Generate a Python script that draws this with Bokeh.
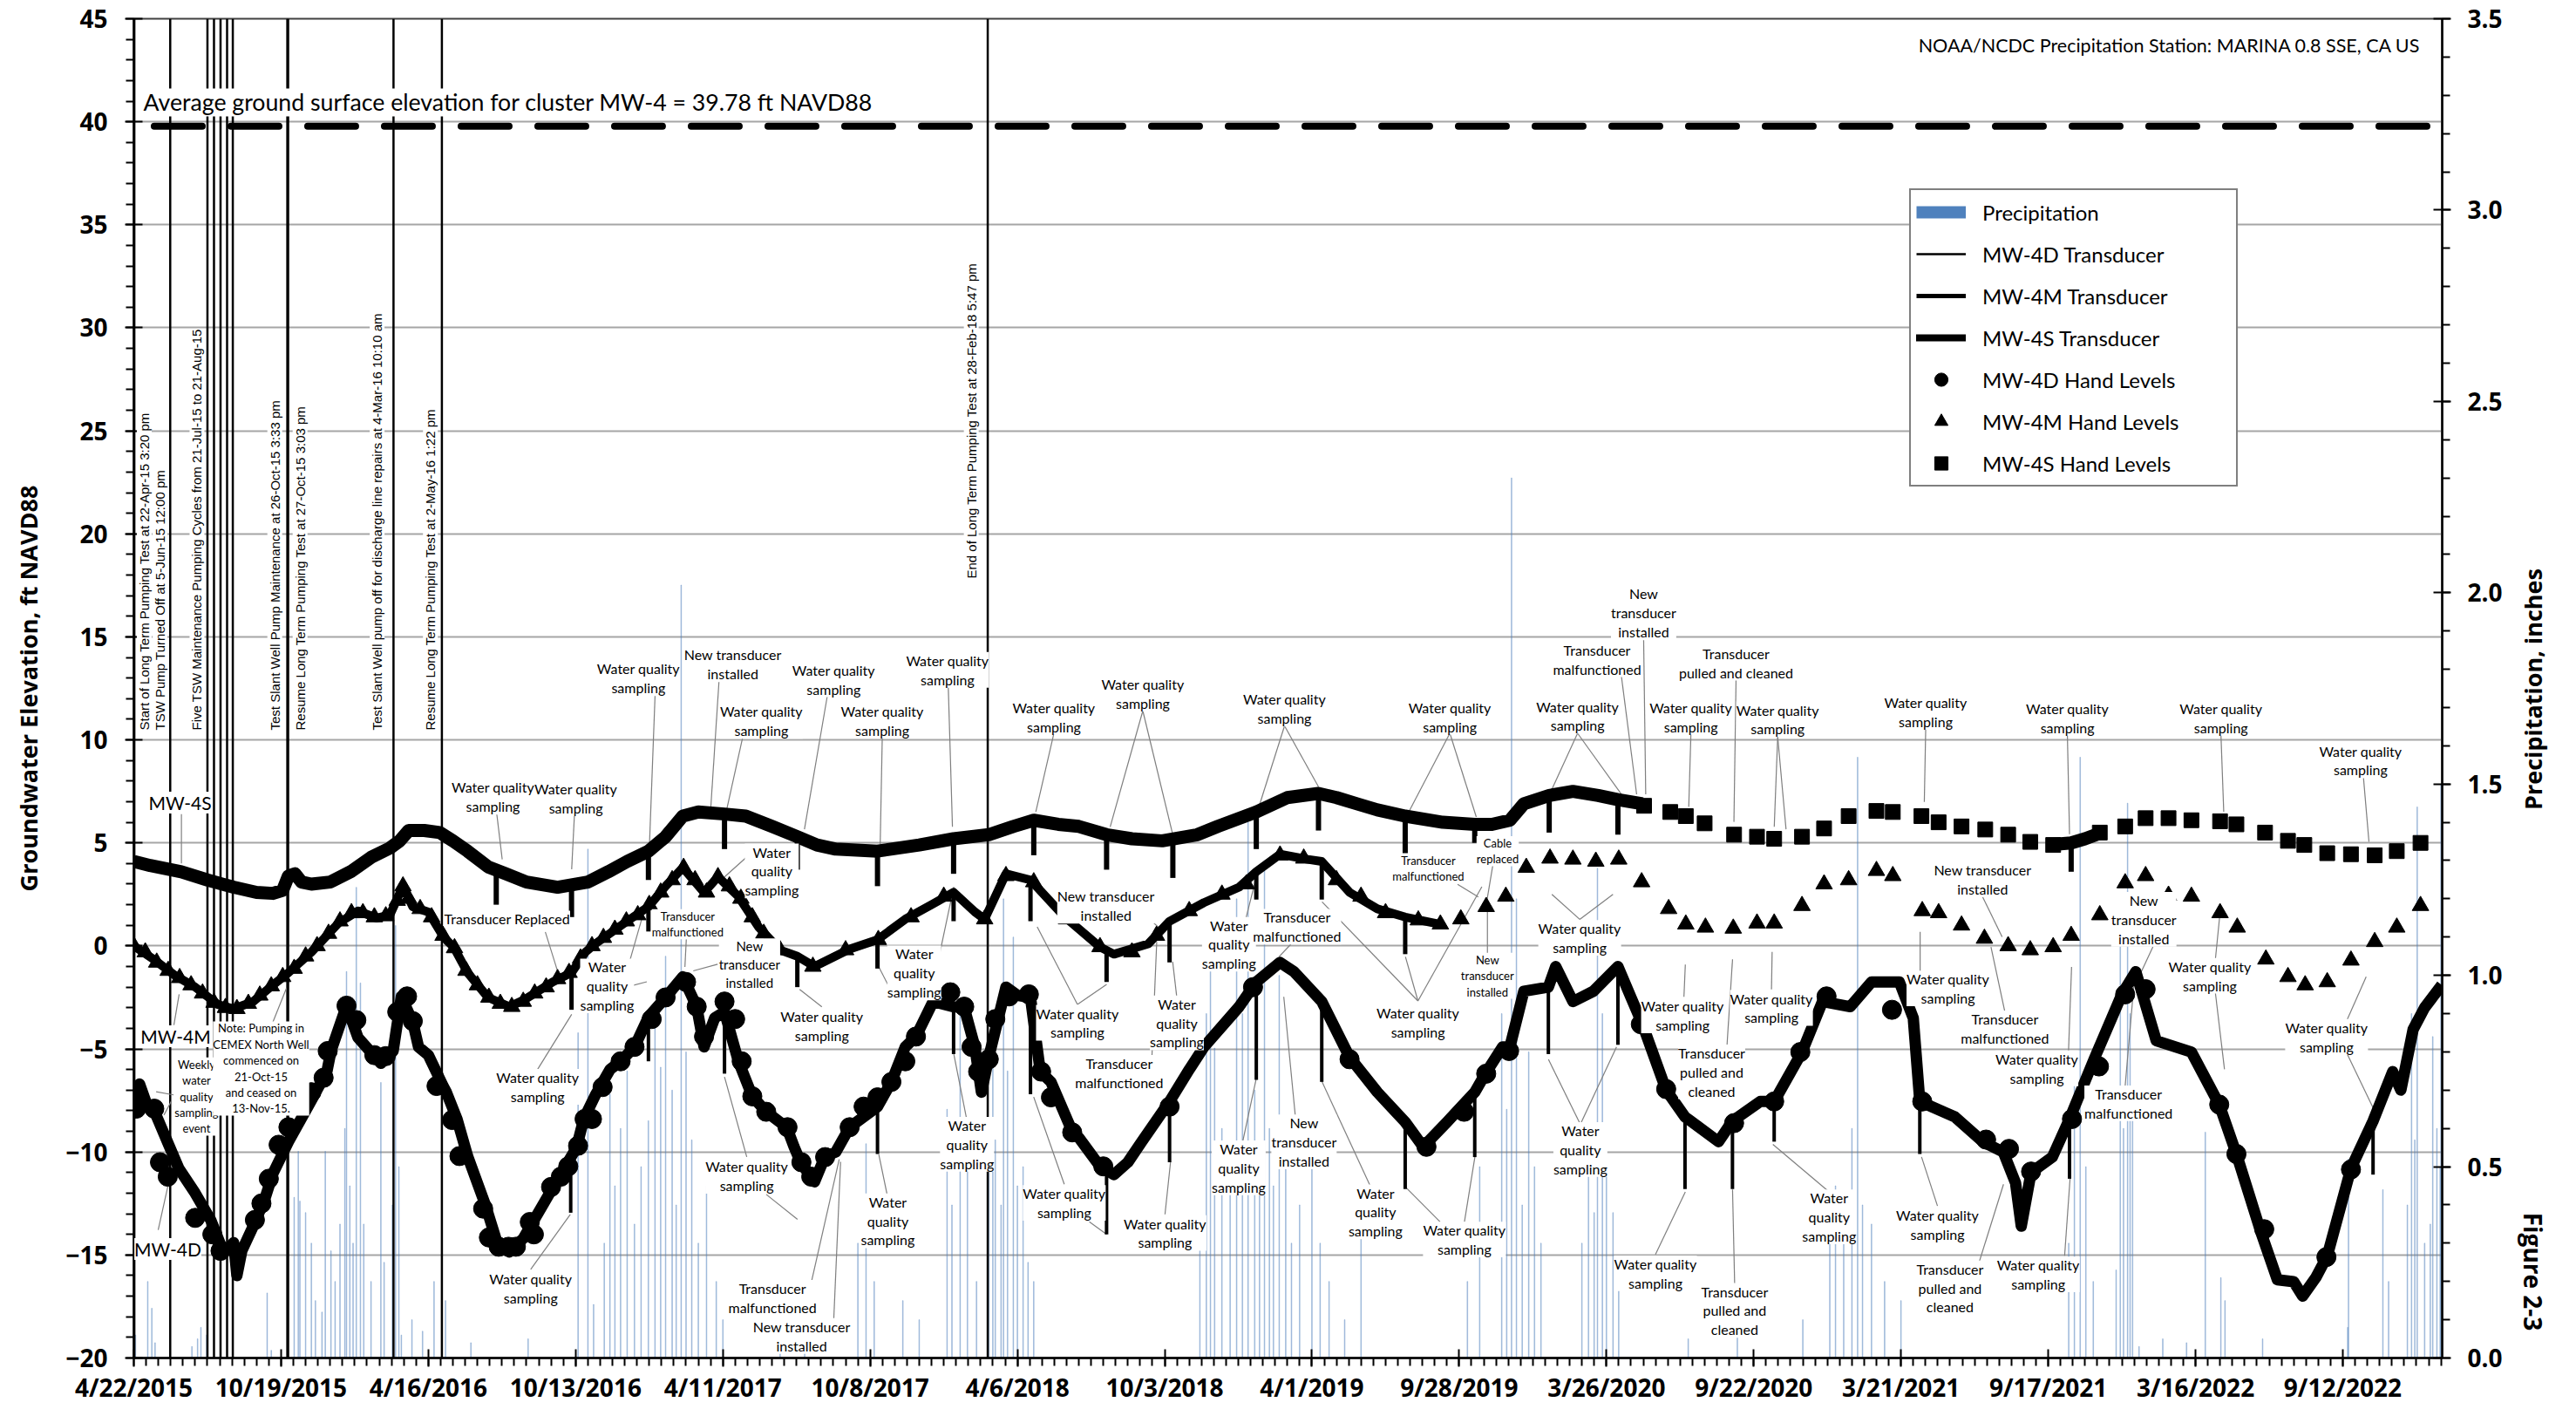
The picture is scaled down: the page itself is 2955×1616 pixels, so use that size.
import math
from bokeh.plotting import figure
from bokeh.layouts import row
from bokeh.models import (Range1d, LinearAxis, FixedTicker, NumeralTickFormatter,
                          Label, Legend, LegendItem)
from bokeh.embed import file_html
from bokeh.resources import INLINE

NAN = float("nan")

# ---------------- data (x = days since 4/22/2015) ----------------
X_END_DAY = 2821.5
X_TICK_DAYS = [0, 180, 360, 540, 720, 900, 1080, 1260, 1440, 1620, 1800, 1980, 2160, 2340, 2520, 2700]
X_TICK_LABELS = ["4/22/2015", "10/19/2015", "4/16/2016", "10/13/2016", "4/11/2017", "10/8/2017",
                 "4/6/2018", "10/3/2018", "4/1/2019", "9/28/2019", "3/26/2020", "9/22/2020",
                 "3/21/2021", "9/17/2021", "3/16/2022", "9/12/2022"]

GROUND_SURFACE_FT = 39.78

# MW-4S transducer
MW4S_DAY = [0, 20, 58, 90, 122, 150, 170, 182, 189, 197, 205, 217, 240, 265, 290, 313, 325, 336, 355, 374,
            390, 408, 433, 455, 480, 518, 555, 580, 603, 629, 650, 671, 690, 722, 748, 780, 811, 835, 858,
            909, 960, 1002, 1045, 1075, 1100, 1130, 1155, 1189, 1220, 1257, 1300, 1325, 1372, 1410, 1448,
            1470, 1495, 1520, 1554, 1600, 1639, 1660, 1682, 1699, 1730, 1759, 1790, 1814, 1844,
            1845, 2340, 2368, 2385, 2405]
MW4S_FT = [4.1, 3.9, 3.6, 3.2, 2.85, 2.6, 2.55, 2.7, 3.4, 3.5, 3.1, 3.0, 3.1, 3.6, 4.3, 4.75, 5.1, 5.6, 5.6, 5.5,
           5.1, 4.6, 3.84, 3.5, 3.1, 2.85, 3.1, 3.6, 4.1, 4.6, 5.3, 6.3, 6.5, 6.4, 6.3, 5.8, 5.3, 4.9, 4.7,
           4.6, 4.9, 5.2, 5.4, 5.8, 6.1, 5.9, 5.8, 5.4, 5.2, 5.1, 5.4, 5.8, 6.5, 7.2, 7.4,
           7.2, 6.9, 6.6, 6.3, 6.0, 5.9, 5.9, 6.1, 6.9, 7.3, 7.5, 7.3, 7.1, 6.9,
           NAN, 4.9, 5.0, 5.2, 5.5]
MW4S_SPIKE_DAY = [443, 535, 629, 722, 811, 909, 1002, 1100, 1189, 1270, 1372, 1448, 1554, 1639, 1730, 1814, 2368]
MW4S_SPIKE_TOP = [3.6, 2.9, 4.6, 6.4, 5.3, 4.6, 5.2, 6.1, 5.4, 5.2, 6.5, 7.4, 6.3, 5.9, 7.3, 7.1, 5.0]
MW4S_SPIKE_LOW = [2.0, 1.4, 3.2, 4.7, 3.7, 2.9, 3.5, 4.4, 3.7, 3.3, 4.7, 5.6, 4.4, 5.0, 5.5, 5.4, 3.6]
MW4S_HAND_DAY = [1846, 1878, 1897, 1920, 1956, 1984, 2005, 2039, 2066, 2096, 2130, 2150, 2185, 2206, 2234,
                 2263, 2291, 2318, 2346, 2403, 2434, 2459, 2487, 2515, 2550, 2570, 2605, 2633, 2653,
                 2681, 2710, 2739, 2766, 2795]
MW4S_HAND_FT = [6.8, 6.5, 6.3, 5.95, 5.4, 5.3, 5.2, 5.3, 5.7, 6.3, 6.55, 6.5, 6.3, 6.0, 5.8,
                5.65, 5.4, 5.05, 4.9, 5.5, 5.8, 6.2, 6.2, 6.1, 6.05, 5.9, 5.5, 5.1, 4.9,
                4.5, 4.45, 4.4, 4.6, 5.0]

# MW-4M transducer
MW4M_DAY = [0, 26, 51, 75, 103, 122, 146, 170, 189, 217, 250, 274, 297, 313, 329, 341, 360, 379, 391, 408,
            433, 459, 478, 512, 535, 552, 564, 603, 629, 650, 671, 697, 714, 739, 764, 790, 811, 832, 875,
            909, 943, 975, 1002, 1028, 1040, 1066, 1096, 1138, 1181, 1198, 1240, 1266, 1308, 1351, 1372,
            1401, 1435, 1452, 1486, 1520, 1554, 1597]
MW4M_FT = [0.0, -0.7, -1.45, -2.0, -2.85, -3.05, -2.7, -1.9, -1.3, -0.3, 1.1, 1.7, 1.35, 1.5, 2.9, 1.9, 1.65,
           0.4, -0.05, -1.3, -2.5, -2.95, -2.6, -1.75, -1.3, -0.3, 0.1, 1.2, 1.9, 2.9, 3.8, 2.6, 3.35, 2.4,
           0.9, -0.2, -0.5, -1.0, -0.15, 0.3, 1.3, 2.0, 2.6, 1.65, 1.3, 3.5, 3.2, 1.4, -0.05, -0.4, 0.1,
           1.2, 2.1, 2.85, 3.6, 4.45, 4.2, 4.1, 2.6, 1.8, 1.4, 1.05]
MW4M_SPIKE_DAY = [535, 629, 811, 909, 1002, 1096, 1189, 1266, 1372, 1452, 1554]
MW4M_SPIKE_TOP = [-1.3, 1.9, -0.5, 0.3, 2.6, 3.2, -0.2, 1.2, 3.6, 4.1, 1.4]
MW4M_SPIKE_LOW = [-3.1, 0.7, -2.0, -1.1, 1.2, 1.2, -1.75, -0.8, 2.25, 2.25, -0.4]
MW4M_HAND_DAY = [0, 14, 28, 42, 56, 70, 84, 98, 112, 126, 140, 154, 168, 182, 196, 210, 224, 238, 252, 266,
                 280, 294, 308, 322, 329, 336, 350, 364, 378, 392, 406, 420, 434, 448, 462, 476, 490, 504,
                 518, 532, 546, 560, 574, 588, 602, 616, 630, 644, 658, 672, 686, 700, 714, 728, 742, 756,
                 770, 790, 830, 870, 910, 950, 990, 1040, 1066, 1100, 1140, 1181, 1220, 1250, 1290, 1330,
                 1360, 1401, 1430, 1470, 1500, 1530, 1570, 1597,
                 1622, 1653, 1677, 1702, 1731, 1759, 1787, 1815, 1843, 1876, 1897, 1921, 1955, 1984, 2005,
                 2039, 2066, 2096, 2130, 2150, 2186, 2206, 2234, 2262, 2291, 2318, 2346, 2368, 2403, 2434,
                 2459, 2487, 2515, 2550, 2571, 2606, 2633, 2654, 2681, 2710, 2739, 2766, 2795]
MW4M_HAND_FT = [0.0, -0.3, -0.8, -1.2, -1.55, -1.9, -2.3, -2.75, -3.0, -3.05, -2.8, -2.4, -1.95, -1.5, -1.1,
                -0.5, 0.0, 0.6, 1.2, 1.6, 1.6, 1.4, 1.45, 2.2, 2.9, 2.3, 1.8, 1.4, 0.5, -0.1, -1.2, -1.9,
                -2.5, -2.8, -2.95, -2.7, -2.3, -2.0, -1.6, -1.3, -0.6, 0.0, 0.4, 0.8, 1.2, 1.5, 2.0, 2.6,
                3.2, 3.8, 3.2, 2.6, 3.35, 2.9, 2.3, 1.4, 0.6, -0.2, -1.0, -0.2, 0.3, 1.4, 2.4, 1.3, 3.4,
                3.1, 1.3, -0.05, -0.3, 0.5, 1.7, 2.5, 3.0, 4.4, 4.25, 3.2, 2.4, 1.6, 1.25, 1.05,
                1.3, 1.9, 2.4, 3.8, 4.25, 4.2, 4.1, 4.2, 3.1, 1.8, 1.05, 0.9, 0.85, 1.1, 1.1,
                1.95, 3.0, 3.2, 3.65, 3.4, 1.7, 1.6, 1.0, 0.36, 0.0, -0.2, -0.05, 0.5, 1.5, 3.05,
                3.4, 2.45, 2.4, 1.6, 0.9, -0.65, -1.5, -1.9, -1.75, -0.7, 0.2, 0.9, 1.95]

# MW-4D transducer
MW4D_DAY = [0, 7, 15, 26, 41, 55, 75, 94, 108, 118, 122, 126, 132, 146, 160, 170, 189, 217, 236, 241, 260,
            274, 293, 302, 317, 327, 341, 348, 360, 378, 382, 395, 408, 430, 444, 450, 459, 476, 501, 520,
            541, 550, 564, 582, 595, 612, 629, 650, 671, 688, 697, 710, 722, 739, 756, 773, 798, 807, 815,
            832, 845, 858, 875, 892, 909, 926, 943, 956, 977, 1002, 1015, 1028, 1036, 1045, 1066, 1080,
            1096, 1108, 1121, 1147, 1155, 1181, 1198, 1215, 1232, 1266, 1290, 1308, 1351, 1372, 1401,
            1418, 1452, 1486, 1520, 1554, 1576, 1605, 1639, 1652, 1673, 1682, 1699, 1729, 1738, 1759,
            1784, 1814, 1830, 1844, 1873, 1896, 1903, 1937, 1954, 1988, 2005, 2039, 2064, 2098, 2124,
            2158, 2175, 2183, 2226, 2260, 2285, 2300, 2307, 2319, 2345, 2366, 2396, 2430, 2447, 2472,
            2515, 2549, 2570, 2600, 2620, 2640, 2651, 2667, 2681, 2710, 2737, 2761, 2771, 2786, 2800, 2821]
MW4D_FT = [-7.25, -6.7, -7.6, -8.1, -9.5, -10.8, -12.0, -13.3, -14.7, -14.6, -14.4, -16.0, -14.8, -13.6,
           -12.3, -11.05, -9.5, -7.5, -6.1, -5.1, -2.9, -4.45, -5.3, -5.7, -5.1, -2.45, -3.7, -4.9, -5.3,
           -6.8, -7.1, -8.4, -10.2, -12.6, -14.4, -14.6, -14.85, -14.2, -12.5, -11.2, -9.8, -8.4, -7.25,
           -6.0, -5.6, -4.9, -3.45, -2.5, -1.5, -2.95, -4.9, -3.5, -3.2, -5.6, -7.3, -8.05, -8.8, -9.75,
           -10.5, -11.45, -10.2, -10.0, -8.8, -8.3, -7.8, -6.6, -4.9, -4.4, -2.7, -2.95, -3.0, -4.9, -7.1,
           -5.4, -2.0, -2.4, -2.5, -6.1, -6.6, -9.0, -9.3, -10.7, -11.1, -10.5, -9.5, -7.55, -6.0, -4.9,
           -2.95, -1.75, -0.8, -1.25, -2.7, -5.4, -7.1, -8.55, -9.75, -8.55, -7.1, -6.2, -4.9, -4.9, -2.2,
           -2.0, -1.0, -2.7, -2.2, -1.0, -2.5, -3.8, -7.0, -8.3, -8.5, -9.5, -8.5, -7.55, -7.55, -5.15,
           -2.7, -2.95, -1.75, -1.75, -3.5, -7.55, -8.3, -9.5, -10.0, -11.5, -13.6, -11.0, -10.25, -8.4,
           -5.5, -2.35, -1.25, -4.6, -5.15, -7.7, -10.1, -13.9, -16.2, -16.3, -17.0, -16.1, -15.05, -10.8,
           -8.5, -6.1, -7.0, -4.05, -3.0, -1.9]
MW4D_SPIKE_DAY = [534, 629, 722, 909, 1002, 1096, 1189, 1266, 1372, 1452, 1554, 1639, 1729, 1814, 1896,
                  1954, 2005, 2183, 2366, 2737]
MW4D_SPIKE_TOP = [-10.3, -3.45, -3.2, -7.8, -2.95, -2.5, -10.9, -7.55, -1.75, -2.7, -8.55, -7.1, -2.0,
                  -1.0, -8.3, -8.5, -7.55, -7.55, -8.4, -8.6]
MW4D_SPIKE_LOW = [-12.95, -5.6, -6.2, -10.1, -5.25, -7.2, -14.0, -10.5, -6.5, -6.6, -11.8, -10.25, -5.25,
                  -4.8, -11.8, -11.8, -9.5, -10.1, -11.3, -11.1]
MW4D_HAND_DAY = [1, 3, 25, 32, 41.5, 75, 96, 106, 148, 156, 165, 177, 189, 217, 232, 237, 260, 272, 294,
                 308, 322, 334, 341, 370, 389, 398, 427, 434, 446, 458, 467, 484, 489, 510, 522, 531, 543,
                 551, 560, 573, 595, 612, 633, 650, 675, 688, 697, 722, 735, 743, 756, 773, 799, 816, 828,
                 845, 875, 892, 909, 926, 943, 956, 998, 1015, 1024, 1032, 1045, 1053, 1070, 1094, 1109,
                 1121, 1147, 1185, 1266, 1368, 1486, 1580, 1626, 1653, 1681, 1842, 1873, 1956, 2005, 2037,
                 2069, 2149, 2186, 2264, 2292, 2319, 2369, 2402, 2434, 2459, 2549, 2570, 2604, 2680, 2710]
MW4D_HAND_FT = [-7.25, -7.9, -7.9, -10.5, -11.2, -13.2, -14.0, -14.8, -13.3, -12.5, -11.3, -9.65, -8.8,
                -7.1, -6.4, -5.1, -2.9, -3.6, -5.3, -5.35, -3.2, -2.45, -3.65, -6.8, -8.45, -10.2, -12.75,
                -14.15, -14.6, -14.6, -14.6, -13.4, -14.0, -11.7, -11.2, -10.7, -9.7, -8.4, -8.4, -6.85,
                -5.6, -4.9, -3.55, -2.5, -1.75, -2.95, -4.4, -2.7, -3.55, -5.6, -7.3, -8.05, -8.8, -10.5,
                -11.2, -10.25, -8.8, -7.8, -7.35, -6.6, -5.6, -4.4, -2.25, -2.95, -4.9, -6.1, -5.5, -3.55,
                -2.45, -2.35, -6.1, -7.35, -9.05, -10.7, -7.8, -2.0, -5.5, -9.75, -8.05, -6.2, -5.1, -3.8,
                -6.95, -8.6, -7.55, -5.15, -2.45, -3.1, -7.55, -9.4, -9.85, -10.95, -8.4, -5.85, -2.35,
                -2.1, -7.7, -10.1, -13.75, -15.1, -10.85]

# Daily precipitation (inches), NOAA/NCDC MARINA 0.8 SSE
PRECIP_DAY = [2, 17, 22, 26, 71, 78, 82, 89, 163, 168, 196, 201, 203, 210, 217, 222, 230, 234, 241, 246,
              252, 258, 260, 264, 268, 272, 277, 281, 290, 302, 306, 316, 320, 324, 327, 340, 353, 367,
              381, 412, 482, 543, 555, 562, 575, 582, 588, 595, 603, 612, 620, 629, 637, 644, 650, 658,
              663, 669, 675, 682, 690, 700, 712, 720, 790, 820, 885, 895, 905, 940, 960, 994, 1000,
              1010, 1019, 1030, 1045, 1050, 1053, 1060, 1063, 1068, 1075, 1080, 1087, 1093, 1100, 1303,
              1311, 1316, 1321, 1330, 1340,
              1348, 1355, 1362, 1370, 1376, 1382, 1388, 1393, 1400, 1408, 1415, 1425, 1440, 1450, 1461,
              1480, 1500, 1630, 1645, 1672, 1678, 1684, 1690, 1697, 1705, 1712, 1720, 1770, 1778, 1785,
              1789, 1795, 1800, 1808, 1815, 1900, 1960, 2040, 2073, 2080, 2090, 2100, 2107, 2113, 2124,
              2140, 2160, 2365, 2372, 2379, 2386, 2395, 2423, 2428, 2432, 2437, 2440, 2443, 2451, 2480,
              2509, 2532, 2551, 2556, 2602, 2706, 2707, 2749, 2756, 2779, 2784, 2788, 2791, 2800, 2807,
              2810, 2815, 2819, 2820]
PRECIP_IN = [0.06, 0.2, 0.13, 0.04, 0.03, 0.05, 0.08, 0.06, 0.17, 0.02, 0.42, 0.54, 0.41, 0.38, 0.30,
             0.15, 0.12, 0.54, 0.28, 0.2, 0.35, 0.6, 1.01, 0.45, 0.3, 1.23, 0.98, 0.35, 0.2, 0.72, 0.25,
             0.4, 1.13, 0.5, 0.06, 0.1, 0.07, 0.2, 0.15, 0.04, 0.05, 0.85, 1.33, 0.14, 0.3, 0.69, 0.45,
             0.6, 0.75, 0.35, 0.5, 0.62, 0.9, 0.76, 1.05, 0.7, 0.4, 2.02, 0.8, 0.57, 0.3, 0.45, 0.2, 0.1,
             0.05, 0.1, 0.3, 0.56, 0.2, 0.15, 0.1, 0.65, 0.4, 0.9, 0.55, 0.2, 0.5, 0.9, 0.57, 0.4, 1.2,
             0.75, 1.1, 0.45, 0.5, 0.25, 0.2, 0.3,
             0.9, 1.1, 0.81, 0.6, 0.5, 1.2, 0.9, 1.4, 0.7, 0.45, 1.3, 0.6, 0.45, 1.0, 0.5, 0.3,
             0.4, 0.55, 0.3, 0.2, 0.1, 0.35, 0.2, 0.5, 0.9, 0.65, 2.3, 1.2, 0.4, 0.8, 0.5, 0.3, 0.3, 0.6,
             0.38, 1.28, 0.9, 0.5, 0.38, 0.2, 0.05, 0.1, 0.1, 0.3, 0.45, 0.38, 0.6, 1.57, 0.4, 0.35, 0.2,
             0.15, 0.3, 0.8, 1.57, 0.5, 0.2, 0.23, 1.2, 0.6, 1.45, 0.9, 0.7, 0.03, 0.05, 0.04, 0.59,
             0.21, 0.15, 0.05, 0.08, 0.52, 0.44, 0.2, 0.4, 0.9, 0.57, 1.44, 0.3, 0.35, 0.84, 0.6, 0.5,
             1.5]

# Events (vertical lines)
EVENT_DAY = [0.64, 44.5, 90, 98, 106, 114, 121, 187.65, 188.63, 317.42, 376.56, 1043.74]
EVENT_LABELS = [
    ("Start of Long Term Pumping Test at 22-Apr-15 3:20 pm", 12.8, 10.47),
    ("TSW Pump Turned Off at 5-Jun-15 12:00 pm", 32.0, 10.47),
    ("Five TSW Maintenance Pumping Cycles from 21-Jul-15 to 21-Aug-15", 77.2, 10.47),
    ("Test Slant Well Pump Maintenance at 26-Oct-15 3:33 pm", 172.3, 10.47),
    ("Resume Long Term Pumping Test at 27-Oct-15 3:03 pm", 203.2, 10.47),
    ("Test Slant Well pump off for discharge line repairs at 4-Mar-16 10:10 am", 297.4, 10.47),
    ("Resume Long Term Pumping Test at 2-May-16 1:22 pm", 362.5, 10.47),
    ("End of Long Term Pumping Test at 28-Feb-18 5:47 pm", 1023.6, 17.83),
]

WQ = "Water quality\nsampling"
WQ3 = "Water\nquality\nsampling"
# (text, day, ft, font px, [leader segments (day0, ft0, day1, ft1)])
CALLOUTS = [
    ("MW-4S", 56.5, 6.96, 21, [(58.2, 6.4, 58.2, 4.0)]),
    ("MW-4M", 51.1, -4.39, 21, [(49, -3.84, 55.4, -2.35)]),
    ("MW-4D", 41.6, -14.71, 21, [(29.8, -13.78, 41.6, -11.67)]),
    ("Weekly\nwater\nquality\nsampling\nevent", 76.7, -7.31, 13,
     [(48.6, -7.23, 27.3, -7.08), (46.2, -7.51, 36.8, -8.21)]),
    ("Note: Pumping in\nCEMEX North Well\ncommenced on\n21-Oct-15\nand ceased on\n13-Nov-15.",
     155.6, -5.95, 13, [(165.2, -4.17, 186.5, -2.06)]),
    (WQ, 439, 7.24, 16, [(443.5, 6.46, 450.3, 4.2)]),
    (WQ, 540.3, 7.16, 16, [(538.6, 6.39, 535.2, 3.72)]),
    (WQ, 616.8, 12.99, 16, [(637.1, 12.14, 630.3, 4.93)]),
    ("New transducer\ninstalled", 732.2, 13.67, 16, [(715.3, 12.87, 705.1, 6.63)]),
    (WQ, 767.1, 10.92, 16, [(744.1, 10.1, 722.0, 6.14)]),
    (WQ, 855.4, 12.94, 16, [(847.7, 12.14, 819.7, 5.66)]),
    (WQ, 914.8, 10.95, 16, [(914.8, 10.08, 912.3, 4.93)]),
    (WQ, 994.6, 13.4, 16, [(995.5, 12.58, 1000.6, 5.78)]),
    (WQ, 1124.6, 11.12, 16, [(1124.6, 10.32, 1102.5, 6.51)]),
    (WQ, 1233.3, 12.24, 16, [(1233.3, 11.41, 1193.4, 5.78), (1233.3, 11.41, 1269.8, 5.42)]),
    (WQ, 1406.5, 11.51, 16, [(1406.5, 10.68, 1374.2, 6.63), (1406.5, 10.68, 1448.1, 7.72)]),
    (WQ, 1608.6, 11.12, 16, [(1608.6, 10.32, 1558.5, 6.51), (1608.6, 10.32, 1640.9, 6.26)]),
    ("Transducer\nmalfunctioned", 1582.3, 3.77, 13, [(1618.0, 2.99, 1643.4, 2.38)]),
    ("Cable\nreplaced", 1667, 4.6, 13, [(1661, 3.89, 1652.6, 1.9)]),
    ("Transducer Replaced", 456.3, 1.31, 16, [(503, 0.68, 518.2, -1.26)]),
    (WQ3, 578.5, -1.94, 16, [(603.2, -1.14, 628.6, 2.38), (603.2, -1.99, 627, -1.74)]),
    ("Transducer\nmalfunctioned", 677, 1.05, 13, [(675.3, 0.32, 673.6, -1.02)]),
    ("New\ntransducer\ninstalled", 752.6, -0.89, 15, [(713.6, -0.89, 683.8, -1.21)]),
    (WQ3, 779.8, 3.64, 16, [(752.6, 4.44, 722.0, 3.35)]),
    (WQ, 841, -3.88, 16, [(841, -2.96, 813.8, -2.11)]),
    (WQ3, 953.9, -1.31, 16, [(983.6, -0.65, 1002.3, 2.87), (921.6, -1.87, 910.6, -1.02)]),
    ("New transducer\ninstalled", 1188.3, 1.95, 16, [(1231.6, 1.65, 1258.7, 0.68)]),
    (WQ, 1153.4, -3.73, 16, [(1153.4, -2.84, 1104.2, 0.93), (1153.4, -2.84, 1189.1, -1.87)]),
    (WQ3, 1274.9, -3.73, 16, [(1274.9, -2.52, 1269.8, -0.77)]),
    ("Transducer\nmalfunctioned", 1204.4, -6.16, 16, [(1244.3, -5.51, 1250.3, 0.2)]),
    (WQ3, 1338.6, 0.08, 16, [(1359, 1.29, 1373.4, 3.55)]),
    ("Transducer\nmalfunctioned", 1421.8, 0.93, 16, [(1414.2, 0.08, 1399.7, -0.53)]),
    (WQ, 1569.6, -3.69, 16, [(1569.6, -2.67, 1452.4, 2.14), (1569.6, -2.67, 1554.3, -0.53),
                             (1569.6, -2.67, 1647.7, 2.87)]),
    ("New\ntransducer\ninstalled", 1654.5, -1.45, 13, [(1654.5, -0.48, 1654.5, 1.65)]),
    (WQ, 493.6, -6.84, 16, [(493.6, -5.99, 535.2, -3.32)]),
    (WQ, 485.1, -16.62, 16, [(485.1, -15.7, 533.5, -13.03)]),
    (WQ, 749.2, -11.16, 16, [(749.2, -10.24, 722, -6.36), (773, -12.06, 811.2, -13.27)]),
    ("Transducer\nmalfunctioned", 780.6, -17.08, 16, [(828.2, -16.31, 862.2, -10.36)]),
    ("New transducer\ninstalled", 816.3, -18.93, 16, [(855.4, -18.25, 863.9, -10.48)]),
    (WQ3, 921.6, -13.34, 16, [(921.6, -12.23, 910.6, -10.12)]),
    (WQ3, 1018.4, -9.63, 16, [(1018.4, -8.49, 1002.3, -5.26)]),
    (WQ, 1137.3, -12.47, 16, [(1137.3, -11.57, 1099.9, -7.33), (1167.9, -13.39, 1189.1, -14.0)]),
    (WQ, 1260.4, -13.93, 16, [(1260.4, -13.03, 1267.2, -10.48)]),
    (WQ3, 1350.5, -10.77, 16, [(1354.7, -9.63, 1371.7, -6.48)]),
    ("New\ntransducer\ninstalled", 1430.3, -9.51, 16, [(1420.1, -8.42, 1405.6, -2.47)]),
    (WQ3, 1517.7, -12.91, 16, [(1511.8, -11.7, 1452.4, -6.6)]),
    (WQ, 1626.4, -14.25, 16, [(1596.7, -13.39, 1554.3, -11.7), (1626.4, -13.39, 1639.2, -10.24)]),
    ("New\ntransducer\ninstalled", 1845.4, 16.17, 16, [(1845.4, 15.0, 1848, 7.36)]),
    ("Transducer\nmalfunctioned", 1788.5, 13.91, 16, [(1818.2, 13.11, 1836.9, 7.36)]),
    ("Transducer\npulled and cleaned", 1958.4, 13.74, 16, [(1958.4, 12.94, 1955.8, 6.02)]),
    (WQ, 1764.7, 11.17, 16, [(1764.7, 10.32, 1733.3, 7.6), (1764.7, 10.32, 1818.2, 7.36)]),
    (WQ, 1903.2, 11.12, 16, [(1903.2, 10.27, 1900.6, 6.75)]),
    (WQ, 2009.3, 11.0, 16, [(2009.3, 10.15, 2005.1, 5.78), (2009.3, 10.15, 2019.5, 5.66)]),
    (WQ, 2190.2, 11.36, 16, [(2190.2, 10.51, 2188.5, 6.99)]),
    (WQ, 2363.4, 11.07, 16, [(2363.4, 10.22, 2366, 5.42)]),
    (WQ, 2551.1, 11.07, 16, [(2551.1, 10.22, 2554.5, 6.51)]),
    (WQ, 2721.8, 9.01, 16, [(2725.2, 8.21, 2732, 5.05)]),
    (WQ, 1767.3, 0.39, 16, [(1767.3, 1.29, 1733.3, 2.5), (1767.3, 1.29, 1808, 2.5)]),
    ("New transducer\ninstalled", 2259.8, 3.23, 16, [(2259.8, 2.38, 2283.6, 0.44)]),
    ("New\ntransducer\ninstalled", 2456.8, 1.29, 16, [(2467.9, -0.05, 2450.9, -1.5)]),
    (WQ, 2537.5, -1.45, 16, [(2544.3, -0.65, 2550.2, 1.7), (2544.3, -2.28, 2555.4, -5.99)]),
    (WQ, 2217.4, -2.06, 16, [(2183.4, -1.31, 2183.4, 0.68)]),
    ("Transducer\nmalfunctioned", 2287, -4.0, 16, [(2287, -3.2, 2270, -0.05)]),
    ("Transducer\nmalfunctioned", 2438.1, -7.64, 16, [(2433.9, -6.84, 2446.6, -1.02)]),
    (WQ, 2326.1, -5.94, 16, [(2364.3, -5.63, 2368.5, -1.02)]),
    (WQ, 1893, -3.37, 16, [(1894.7, -2.47, 1896.4, -0.9)]),
    (WQ, 2001.7, -3.01, 16, [(2001.7, -2.11, 2002.5, -0.29)]),
    ("Transducer\npulled and\ncleaned", 1928.6, -6.11, 16, [(1947.3, -4.85, 1954.1, -0.65)]),
    (WQ3, 1768.1, -9.88, 16, [(1768.1, -8.66, 1729.1, -5.51), (1768.1, -8.66, 1812.3, -4.9)]),
    (WQ3, 2072.2, -13.15, 16, [(2072.2, -11.94, 2003.4, -9.63)]),
    (WQ, 2204.6, -13.52, 16, [(2204.6, -12.62, 2185.1, -10.24)]),
    (WQ, 1859.9, -15.89, 16, [(1859.9, -14.97, 1896.4, -11.94)]),
    ("Transducer\npulled and\ncleaned", 1956.7, -17.69, 16, [(1956.7, -16.43, 1954.1, -11.82)]),
    ("Transducer\npulled and\ncleaned", 2219.9, -16.6, 16, [(2255.6, -15.34, 2285.3, -11.57)]),
    (WQ, 2327.8, -15.94, 16, [(2360, -15.04, 2366.8, -11.21)]),
    (WQ, 2680.2, -4.41, 16, [(2705.6, -3.56, 2728.6, -1.5), (2705.6, -5.26, 2737.9, -7.93)]),
]

# ---------------- figure ----------------
TOTAL_W, FIG_H = 2950, 1612
BL, BR, BT, BB = 153, 80, 21, 55
FIG_W = 2801 + BR
SIDE_W = TOTAL_W - FIG_W         # narrow strip at the far right for the vertical titles

CAL = "Lato"
BOLD = "Open Sans"
ARIAL = "Liberation Sans"

p = figure(width=FIG_W, height=FIG_H, output_backend="svg", toolbar_location=None,
           x_range=Range1d(0, X_END_DAY), y_range=Range1d(-20, 45),
           min_border_left=BL, min_border_right=BR, min_border_top=BT, min_border_bottom=BB)
p.extra_y_ranges = {"precip": Range1d(0, 3.5)}
p.outline_line_color = "#404040"
p.outline_line_width = 2
p.background_fill_color = "white"
p.border_fill_color = "white"

# axes
xa = p.xaxis[0]
xa.ticker = FixedTicker(ticks=X_TICK_DAYS, minor_ticks=list(range(0, 2822, 15)))
xa.major_label_overrides = {d: lab for d, lab in zip(X_TICK_DAYS, X_TICK_LABELS)}
ya = p.yaxis[0]
ya.ticker = FixedTicker(ticks=list(range(-20, 46, 5)), minor_ticks=list(range(-20, 46, 1)))
ya.axis_label = "Groundwater Elevation, ft NAVD88"
ra = LinearAxis(y_range_name="precip",
                ticker=FixedTicker(ticks=[0, 0.5, 1.0, 1.5, 2.0, 2.5, 3.0, 3.5],
                                   minor_ticks=[i / 10 for i in range(0, 36)]),
                formatter=NumeralTickFormatter(format="0.0"))
p.add_layout(ra, "right")
for ax in (xa, ya, ra):
    ax.axis_line_color = "black"
    ax.axis_line_width = 2.5
    ax.major_tick_line_color = "black"
    ax.major_tick_line_width = 2
    ax.minor_tick_line_color = "black"
    ax.minor_tick_line_width = 2
    ax.major_tick_in = 10
    ax.major_tick_out = 10
    ax.minor_tick_in = 0
    ax.minor_tick_out = 9
    ax.major_label_text_font = BOLD
    ax.major_label_text_font_style = "bold"
    ax.major_label_text_font_size = "28px"
    ax.major_label_text_color = "black"
xa.major_label_standoff = 4
ya.major_label_standoff = 20
ra.major_label_standoff = 19
ya.axis_label_text_font = BOLD
ya.axis_label_text_font_style = "bold"
ya.axis_label_text_font_size = "27px"
ya.axis_label_text_color = "black"
ya.axis_label_standoff = 21

p.xgrid.visible = False
p.ygrid.ticker = FixedTicker(ticks=list(range(-15, 41, 5)))
p.ygrid.grid_line_color = "#A6A6A6"
p.ygrid.grid_line_width = 2

# precipitation
p.vbar(x=PRECIP_DAY, top=PRECIP_IN, bottom=0, width=0.8, y_range_name="precip",
       fill_color="#4F81BD", fill_alpha=0.35, line_color="#4F81BD", line_alpha=0.35, line_width=1)

# event lines
p.segment(x0=EVENT_DAY, y0=[-20.2] * len(EVENT_DAY), x1=EVENT_DAY, y1=[45] * len(EVENT_DAY),
          line_color="black", line_width=2.5)

# ground surface line
p.line(x=[25, 2811], y=[GROUND_SURFACE_FT, GROUND_SURFACE_FT], line_color="black", line_width=8,
       line_dash="55 33", line_cap="round")

# leader lines
lx0, ly0, lx1, ly1 = [], [], [], []
for _t, _x, _y, _s, segs in CALLOUTS:
    for (a, b, c, d) in segs:
        lx0.append(a); ly0.append(b); lx1.append(c); ly1.append(d)
p.segment(x0=lx0, y0=ly0, x1=lx1, y1=ly1, line_color="#7F7F7F", line_width=1.2)

# transducer lines
p.line(x=MW4S_DAY, y=MW4S_FT, line_color="black", line_width=15, line_join="round")
p.segment(x0=MW4S_SPIKE_DAY, y0=MW4S_SPIKE_TOP, x1=MW4S_SPIKE_DAY, y1=MW4S_SPIKE_LOW,
          line_color="black", line_width=6)
p.line(x=MW4M_DAY, y=MW4M_FT, line_color="black", line_width=10, line_join="round")
p.segment(x0=MW4M_SPIKE_DAY, y0=MW4M_SPIKE_TOP, x1=MW4M_SPIKE_DAY, y1=MW4M_SPIKE_LOW,
          line_color="black", line_width=5)
p.line(x=MW4D_DAY, y=MW4D_FT, line_color="black", line_width=13, line_join="round")
p.segment(x0=MW4D_SPIKE_DAY, y0=MW4D_SPIKE_TOP, x1=MW4D_SPIKE_DAY, y1=MW4D_SPIKE_LOW,
          line_color="black", line_width=4)

# hand levels
p.scatter(x=MW4D_HAND_DAY, y=MW4D_HAND_FT, marker="circle", size=22, fill_color="black", line_color="black")
p.scatter(x=MW4M_HAND_DAY, y=MW4M_HAND_FT, marker="triangle", size=19, fill_color="black", line_color="black")
p.scatter(x=MW4S_HAND_DAY, y=MW4S_HAND_FT, marker="square", size=17, fill_color="black", line_color="black")

# legend (proxy renderers with a single NaN point carry the legend styling)
r_pr = p.line(x=[NAN], y=[NAN], line_color="#4F81BD", line_width=14, line_cap="butt")
r_d = p.line(x=[NAN], y=[NAN], line_color="black", line_width=2.5)
r_m = p.line(x=[NAN], y=[NAN], line_color="black", line_width=5)
r_s = p.line(x=[NAN], y=[NAN], line_color="black", line_width=8, line_cap="round")
r_hd = p.scatter(x=[NAN], y=[NAN], marker="circle", size=15, fill_color="black", line_color="black")
r_hm = p.scatter(x=[NAN], y=[NAN], marker="triangle", size=15, fill_color="black", line_color="black")
r_hs = p.scatter(x=[NAN], y=[NAN], marker="square", size=14, fill_color="black", line_color="black")
legend = Legend(items=[
    LegendItem(label="Precipitation", renderers=[r_pr]),
    LegendItem(label="MW-4D Transducer", renderers=[r_d]),
    LegendItem(label="MW-4M Transducer", renderers=[r_m]),
    LegendItem(label="MW-4S Transducer", renderers=[r_s]),
    LegendItem(label="MW-4D Hand Levels", renderers=[r_hd]),
    LegendItem(label="MW-4M Hand Levels", renderers=[r_hm]),
    LegendItem(label="MW-4S Hand Levels", renderers=[r_hs]),
], location=(2190 - 153, 1557 - 558))
legend.label_text_font = CAL
legend.label_text_font_size = "24px"
legend.label_text_color = "black"
legend.glyph_width = 57
legend.glyph_height = 38
legend.label_height = 38
legend.label_width = 285
legend.spacing = 10
legend.padding = 6
legend.margin = 0
legend.label_standoff = 19
legend.border_line_color = "black"
legend.border_line_width = 2
legend.background_fill_color = "white"
legend.background_fill_alpha = 1.0
p.add_layout(legend, "center")

# event labels
for text, d, y in EVENT_LABELS:
    p.add_layout(Label(x=d, y=y, text=text, angle=math.pi / 2, text_align="left", text_baseline="middle",
                       text_font=ARIAL, text_font_size="15px", text_color="black",
                       background_fill_color="white", background_fill_alpha=1.0))

# callout labels
for text, d, y, s, _segs in CALLOUTS:
    p.add_layout(Label(x=d, y=y, text=text, text_align="center", text_baseline="middle",
                       text_font=CAL, text_font_size=f"{s}px", text_color="black",
                       text_line_height=1.15,
                       background_fill_color="white", background_fill_alpha=1.0))

# header texts
p.add_layout(Label(x=11.7, y=40.94, text="Average ground surface elevation for cluster MW-4 = 39.78 ft NAVD88",
                   text_align="left", text_baseline="middle", text_font=CAL, text_font_size="26.7px",
                   text_color="black", background_fill_color="white", background_fill_alpha=1.0))
p.add_layout(Label(x=2801, y=43.73, text="NOAA/NCDC Precipitation Station:  MARINA 0.8 SSE, CA US",
                   text_align="right", text_baseline="middle", text_font=CAL, text_font_size="21.5px",
                   text_color="black"))

# side strip with the vertical titles; its frame is aligned with the main frame (page y 21..1557),
# so its y range is expressed as "page height minus page y"
side = figure(width=SIDE_W, height=FIG_H, output_backend="svg", toolbar_location=None,
              x_range=Range1d(0, SIDE_W), y_range=Range1d(FIG_H - 1557, FIG_H - 21),
              x_axis_type=None, y_axis_type=None, min_border=0)
side.outline_line_color = None
side.background_fill_color = "white"
side.border_fill_color = "white"
side.add_layout(Label(x=2905 - FIG_W, y=FIG_H - 790, text="Precipitation, inches", angle=math.pi / 2,
                      text_align="center", text_baseline="middle", text_font=BOLD, text_font_style="bold",
                      text_font_size="27px", text_color="black"))
side.add_layout(Label(x=2905 - FIG_W, y=FIG_H - 1458, text="Figure 2-3", angle=-math.pi / 2,
                      text_align="center", text_baseline="middle", text_font=BOLD, text_font_style="bold",
                      text_font_size="28px", text_color="black"))

layout = row(p, side, spacing=0)
open("out.html", "w").write(file_html(layout, INLINE))
